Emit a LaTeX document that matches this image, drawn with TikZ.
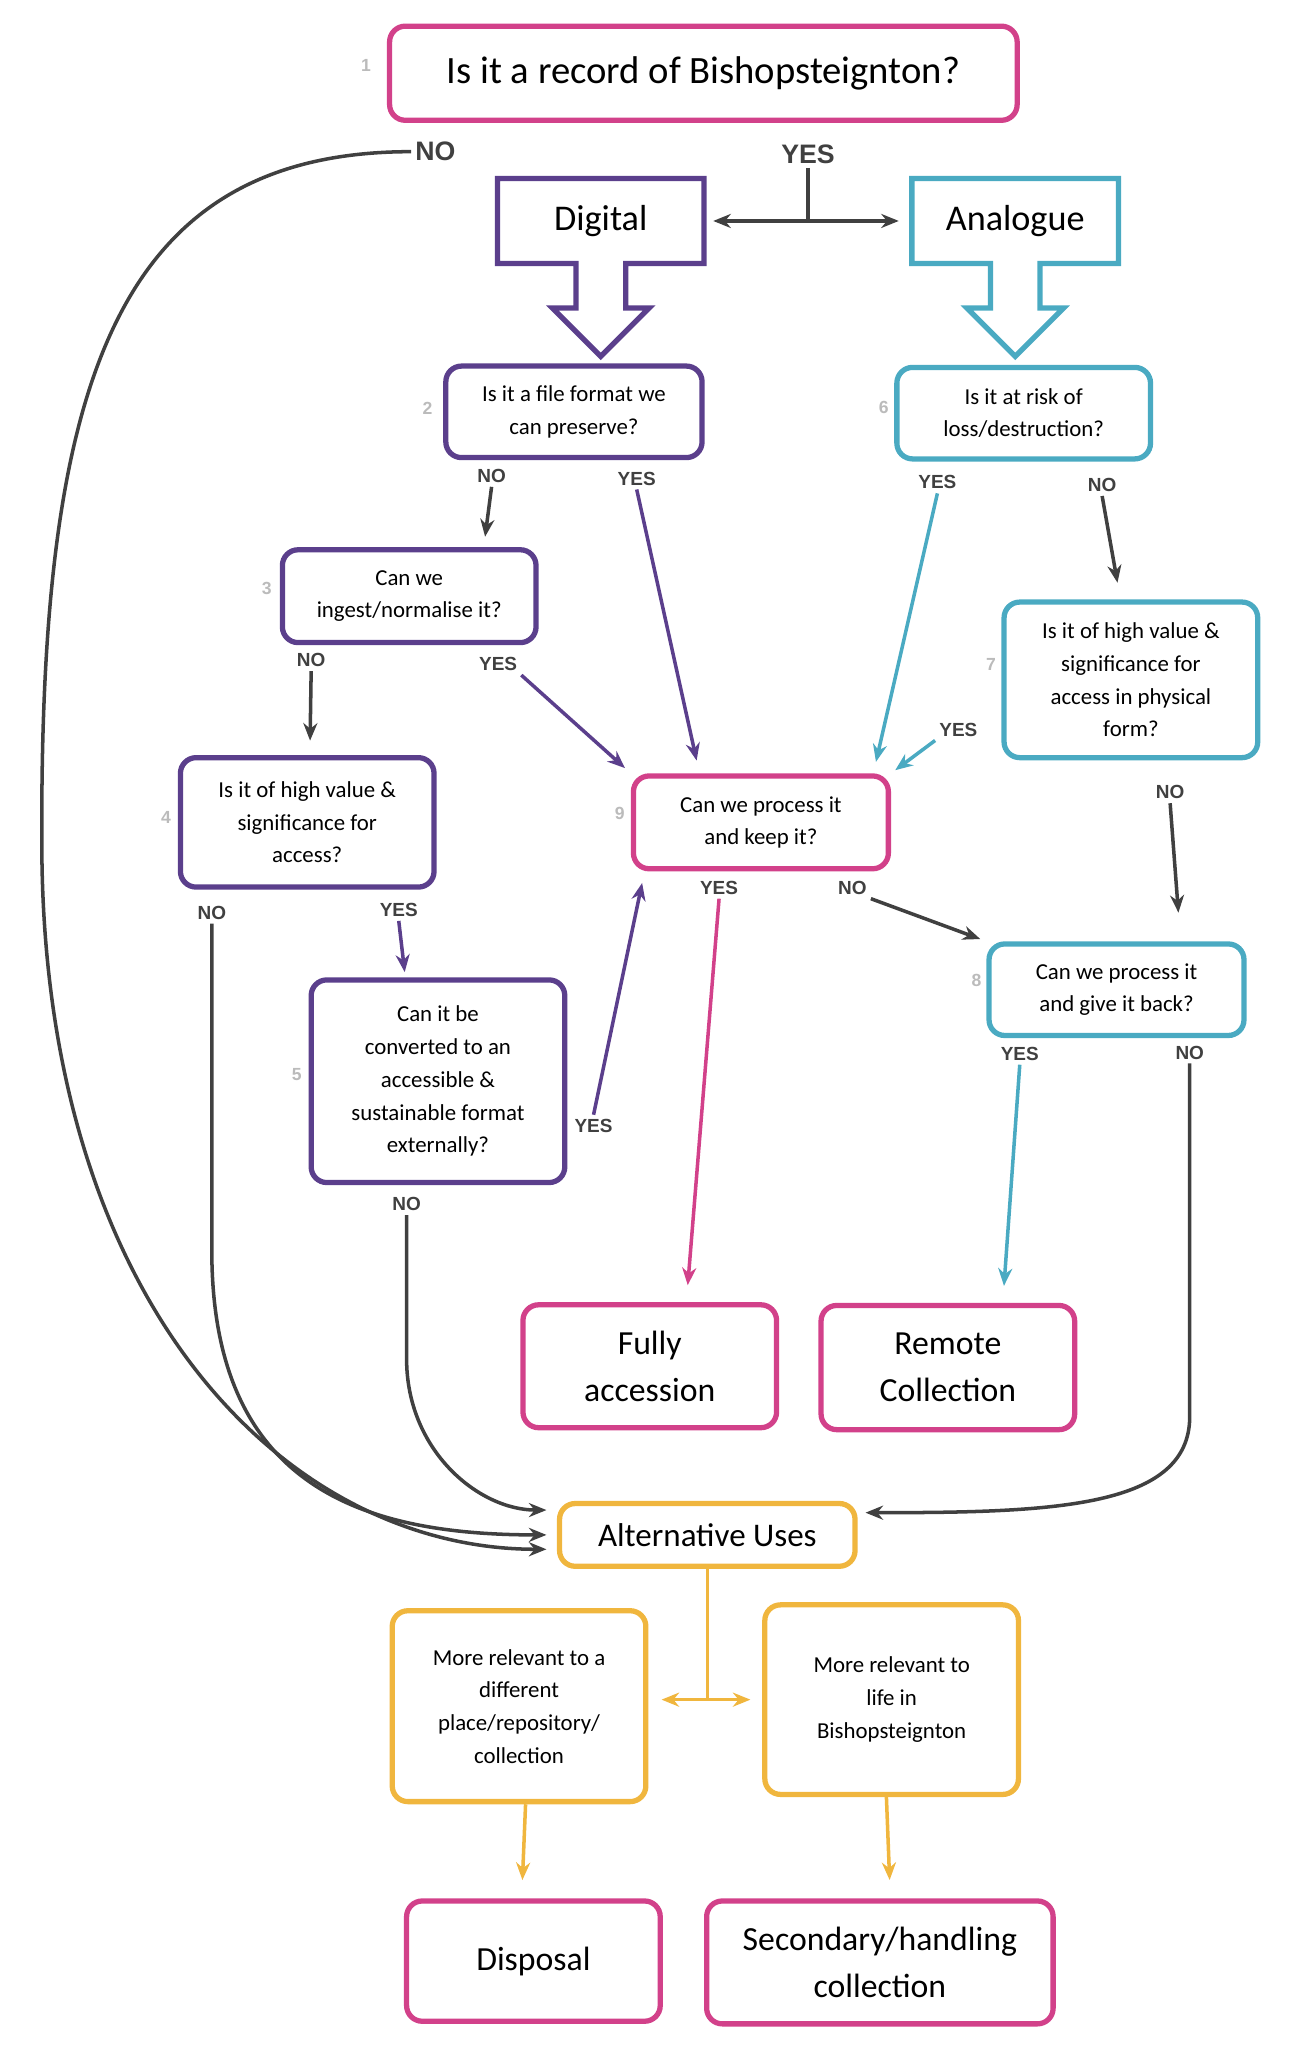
\documentclass[tikz,border=0pt]{standalone}
\usepackage{fontspec}
\setmainfont{Carlito}
\newfontfamily\labfont{Liberation Sans}
\usetikzlibrary{arrows.meta,calc}
\newlength\pu
\setlength\pu{0.01307cm}
\definecolor{magbox}{HTML}{D2418A}
\definecolor{purbox}{HTML}{5B3F8C}
\definecolor{tealbox}{HTML}{4AAAC2}
\definecolor{orabox}{HTML}{F0B63E}
\definecolor{darkln}{HTML}{404040}
\definecolor{numgray}{HTML}{BBBBBB}
\tikzset{
  box/.style={draw,line width=1.5pt,rounded corners=12\pu,align=center,
    font=\fontsize{6.5}{9.3}\selectfont,inner sep=0pt},
  mbox/.style={box,draw=magbox},
  pbox/.style={box,draw=purbox},
  tbox/.style={box,draw=tealbox},
  obox/.style={box,draw=orabox},
  bigbox/.style={mbox,font=\fontsize{9.6}{13.5}\selectfont},
  lab/.style={font=\labfont\bfseries\fontsize{5.4}{6}\selectfont,text=darkln,inner sep=1pt},
  toplab/.style={lab,font=\labfont\bfseries\fontsize{7.6}{8}\selectfont},
  num/.style={font=\labfont\bfseries\fontsize{5}{6}\selectfont,text=numgray},
  darr/.style={draw=darkln,line width=1pt,-{Stealth[length=5pt,width=4pt]}},
  parr/.style={darr,draw=purbox},
  tarr/.style={darr,draw=tealbox},
  marr/.style={darr,draw=magbox},
  oarr/.style={darr,draw=orabox},
}
\begin{document}
\begin{tikzpicture}[x=0.01307cm,y=-0.01307cm]
\useasboundingbox (0,0) rectangle (990,1568);

% question boxes
\node[mbox,minimum width=480\pu,minimum height=72\pu,font=\fontsize{11}{13}\selectfont] (q1) at (538,56) {Is it a record of Bishopsteignton?};
\node[pbox,minimum width=196\pu,minimum height=70\pu] (q2) at (439,315) {Is it a file format we\\can preserve?};
\node[tbox,minimum width=194\pu,minimum height=70\pu] (q6) at (783,316) {Is it at risk of\\loss/destruction?};
\node[pbox,minimum width=194\pu,minimum height=71\pu] (q3) at (313,456) {Can we\\ingest/normalise it?};
\node[tbox,minimum width=194\pu,minimum height=119\pu] (q7) at (865,520) {Is it of high value \&\\significance for\\access in physical\\form?};
\node[pbox,minimum width=194\pu,minimum height=99\pu] (q4) at (235,629) {Is it of high value \&\\significance for\\access?};
\node[mbox,minimum width=195\pu,minimum height=71\pu] (q9) at (582,629) {Can we process it\\and keep it?};
\node[tbox,minimum width=195\pu,minimum height=70\pu] (q8) at (854,757) {Can we process it\\and give it back?};
\node[pbox,minimum width=194\pu,minimum height=155\pu] (q5) at (335,827) {Can it be\\converted to an\\accessible \&\\sustainable format\\externally?};

% numbers
\node[num] at (280,50) {1};
\node[num] at (327,312) {2};
\node[num] at (204,450) {3};
\node[num] at (127,625) {4};
\node[num] at (227,822) {5};
\node[num] at (676,312) {6};
\node[num] at (758,508) {7};
\node[num] at (747,750) {8};
\node[num] at (474,622) {9};

% outcomes
\node[bigbox,minimum width=194\pu,minimum height=94\pu] (fully) at (497,1045) {Fully\\accession};
\node[bigbox,minimum width=194\pu,minimum height=95\pu] (remote) at (725,1046) {Remote\\Collection};
\node[obox,minimum width=226\pu,minimum height=48\pu,font=\fontsize{9.4}{11}\selectfont] (alt) at (541,1174) {Alternative Uses};
\node[obox,minimum width=194\pu,minimum height=146\pu] (rel1) at (397,1305) {More relevant to a\\different\\place/repository/\\collection};
\node[obox,minimum width=194\pu,minimum height=145\pu] (rel2) at (682,1300) {More relevant to\\life in\\Bishopsteignton};
\node[bigbox,minimum width=194\pu,minimum height=92\pu] (disp) at (408,1500) {Disposal};
\node[bigbox,minimum width=265\pu,minimum height=94\pu] (sec) at (673,1501) {Secondary/handling\\collection};

% digital / analogue block arrows
\node[minimum width=157\pu,minimum height=64\pu,font=\fontsize{10.3}{12}\selectfont] (digital) at (459.5,169) {Digital};
\node[minimum width=157\pu,minimum height=64\pu,font=\fontsize{10.3}{12}\selectfont] (analogue) at (776.5,169) {Analogue};
\draw[purbox,line width=1.5pt] (digital.north west) -- (digital.north east) -- (digital.south east)
  -- ++(-60,0) -- ++(0,34) -- ++(18,0) -- ++(-37,37) -- ++(-37,-37) -- ++(18,0) -- ++(0,-34) -- (digital.south west) -- cycle;
\draw[tealbox,line width=1.5pt] (analogue.north west) -- (analogue.north east) -- (analogue.south east)
  -- ++(-60,0) -- ++(0,34) -- ++(18,0) -- ++(-37,37) -- ++(-37,-37) -- ++(18,0) -- ++(0,-34) -- (analogue.south west) -- cycle;

% labels
\node[toplab] (n1no) at (333,116) {NO};
\node[toplab] (n1yes) at (618,118) {YES};
\node[lab] (n2no) at (376,364) {NO};
\node[lab] (n2yes) at (487,366) {YES};
\node[lab] (n6yes) at (717,369) {YES};
\node[lab] (n6no) at (843,371) {NO};
\node[lab] (n3no) at (238,505) {NO};
\node[lab] (n3yes) at (381,508) {YES};
\node[lab] (n7yes) at (733,558) {YES};
\node[lab] (n7no) at (895,606) {NO};
\node[lab] (n4no) at (162,698) {NO};
\node[lab] (n4yes) at (305,696) {YES};
\node[lab] (n9yes) at (550,679) {YES};
\node[lab] (n9no) at (652,679) {NO};
\node[lab] (n5yes) at (454,861) {YES};
\node[lab] (n5no) at (311,921) {NO};
\node[lab] (n8yes) at (780,806) {YES};
\node[lab] (n8no) at (910,805) {NO};

% yes split
\draw[darr,{Stealth[length=5pt,width=4pt]}-{Stealth[length=5pt,width=4pt]},shorten <=7\pu,shorten >=10\pu] (digital.east) -- (analogue.west);
\draw[draw=darkln,line width=1pt] (n1yes.south) -- (n1yes.south |- digital.east);

% connectors
\draw[darr,shorten >=8\pu] (n2no.south) -- ([xshift=57\pu]q3.north);
\draw[parr,shorten >=10\pu] (n2yes.south) -- ([xshift=-47\pu]q9.north);
\draw[tarr,shorten >=9\pu] (n6yes.south) -- ([xshift=86\pu]q9.north);
\draw[darr,shorten >=13\pu] (n6no.south) -- ([xshift=-8\pu]q7.north);
\draw[darr,shorten >=11\pu] (n3no.south) -- ([xshift=2\pu]q4.north);
\draw[parr,shorten >=6\pu] (n3yes.south east) -- (q9.north west);
\draw[tarr,shorten >=4\pu] (n7yes.south west) -- (q9.north east);
\draw[darr,shorten >=22\pu] (n7no.south) -- ([xshift=49\pu]q8.north);
\draw[parr,shorten >=4\pu] (n4yes.south) -- ([xshift=-25\pu]q5.north);
\draw[parr,shorten >=9\pu] (n5yes.north) -- ([xshift=-89\pu]q9.south);
\draw[marr,shorten >=13\pu] (n9yes.south) -- ([xshift=28\pu]fully.north);
\draw[darr,shorten >=5\pu] (n9no.south east) -- (q8.north west);
\draw[tarr,shorten >=13\pu] (n8yes.south) -- ([xshift=42\pu]remote.north);

% to alternative uses
\draw[darr,shorten >=8\pu] (n5no.south) -- ++(0,110) .. controls +(0,70) and +(-60,0) .. ([yshift=19\pu]alt.west);
\draw[darr,shorten >=8\pu] (n4no.south) -- ++(0,250) .. controls +(0,180) and +(-150,0) .. (alt.west);
\draw[darr,shorten >=8\pu] (n1no.west) .. controls +(-230,0) and (30,300) .. (32,650) .. controls (34,1000) and (220,1185) .. ([yshift=-11\pu]alt.west);
\draw[darr,shorten >=6\pu] (n8no.south) -- ++(0,270) .. controls +(0,70) and +(150,0) .. ([yshift=17\pu]alt.east);

% alternative uses split
\draw[orabox,line width=1pt] (alt.south) -- ++(0,100) coordinate (osplit);
\coordinate (oleft) at ($(osplit -| rel1.east)+(10,0)$);
\coordinate (oright) at ($(osplit -| rel2.west)+(-9,0)$);
\draw[oarr,{Stealth[length=5pt,width=4pt]}-{Stealth[length=5pt,width=4pt]}] (oleft) -- (oright);
\draw[oarr,shorten >=14\pu] ([xshift=5\pu]rel1.south) -- ([xshift=-9\pu]disp.north);
\draw[oarr,shorten >=14\pu] ([xshift=-4\pu]rel2.south) -- ([xshift=8\pu]sec.north);
\end{tikzpicture}
\end{document}
